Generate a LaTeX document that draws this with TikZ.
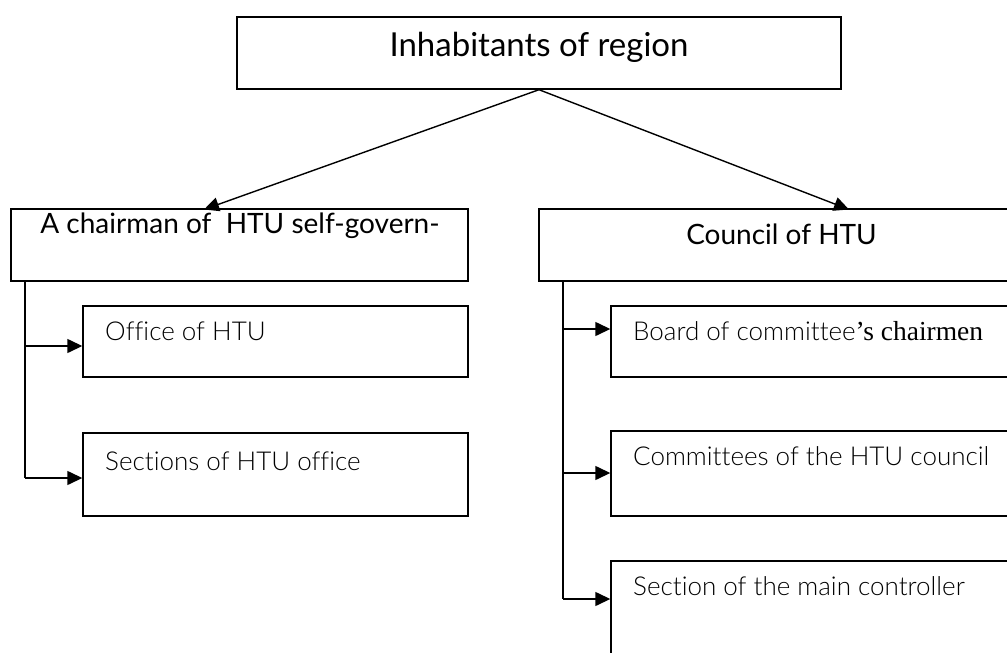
\documentclass[tikz,border=0pt]{standalone}
\usepackage{fontspec}
\setmainfont{Latin Modern Roman}
\newfontfamily\headfont{Lato}[Ligatures={NoCommon}]
\newfontfamily\lightfont{Lato Light}[Ligatures={NoCommon}]
\newfontfamily\oldserif{Liberation Serif}
\usetikzlibrary{arrows.meta}

\tikzset{
  box/.style={draw=black, line width=1.4pt, rectangle, inner sep=0pt},
  headtext/.style={inner sep=0pt, font=\headfont\fontsize{28}{30}\selectfont},
  itemtext/.style={inner sep=0pt, anchor=base west, font=\lightfont\fontsize{26}{28}\selectfont},
  link/.style={line width=1.4pt, -{Triangle[length=15pt,width=14pt]}},
  trunk/.style={line width=1.4pt}
}

\begin{document}
\begin{tikzpicture}[x=1pt,y=-1pt]
\useasboundingbox (0,0) rectangle (1007,653);
\clip (0,0) rectangle (1007,653);

% top level
\node[box, minimum width=604pt, minimum height=72pt] (top) at (539,53) {};
\node[headtext, anchor=base, font=\headfont\fontsize{33}{35}\selectfont] (toptxt) at (539,56) {Inhabitants of region};

% second level
\node[box, minimum width=457pt, minimum height=72pt] (chair) at (239.5,245) {};
\node[headtext, anchor=base] (chairtxt) at (240,233) {A chairman of\ \ HTU self-govern-};

\node[box, minimum width=485pt, minimum height=72pt] (council) at (781.5,245) {};
\node[headtext, anchor=base] (counciltxt) at (781.5,244) {Council of HTU};

% left branch
\node[box, minimum width=385pt, minimum height=71pt] (office) at (275.5,341.5) {};
\node[itemtext] (officetxt) at (105,340) {Office of HTU};
\node[box, minimum width=385pt, minimum height=83pt] (sections) at (275.5,474.5) {};
\node[itemtext] (sectionstxt) at (105,470) {Sections of HTU office};

% right branch
\node[box, minimum width=420pt, minimum height=71pt] (board) at (821,341.5) {};
\node[itemtext] (boardtxt) at (633,340) {Board of committee{\oldserif\fontsize{27.5}{29}\selectfont ’s chairmen}};
\node[box, minimum width=420pt, minimum height=85pt] (committees) at (821,473.5) {};
\node[itemtext] (committeestxt) at (633,465) {Committees of the HTU council};
\node[box, minimum width=420pt, minimum height=119pt] (mainctrl) at (821,620.5) {};
\node[itemtext] (mainctrltxt) at (633,595) {Section of the main controller};

% connectors from the top box
\coordinate (chairin) at (204,209.5);
\coordinate (councilin) at (849,209.5);
\draw[link] (top.south) -- (chairin);
\draw[link] (top.south) -- (councilin);

% left tree
\coordinate (lroot) at (25,281);
\draw[trunk] (lroot) -- (lroot |- 0,478);
\draw[link] (lroot |- 0,346) -- ([yshift=-4.5pt]office.west);
\draw[link] (lroot |- 0,478) -- ([yshift=-3.5pt]sections.west);

% right tree
\coordinate (rroot) at (563,281);
\draw[trunk] (rroot) -- (rroot |- 0,599);
\draw[link] (rroot |- 0,329) -- ([yshift=12.5pt]board.west);
\draw[link] (rroot |- 0,473) -- ([yshift=0.5pt]committees.west);
\draw[link] (rroot |- 0,599) -- ([yshift=21.5pt]mainctrl.west);
\end{tikzpicture}
\end{document}
